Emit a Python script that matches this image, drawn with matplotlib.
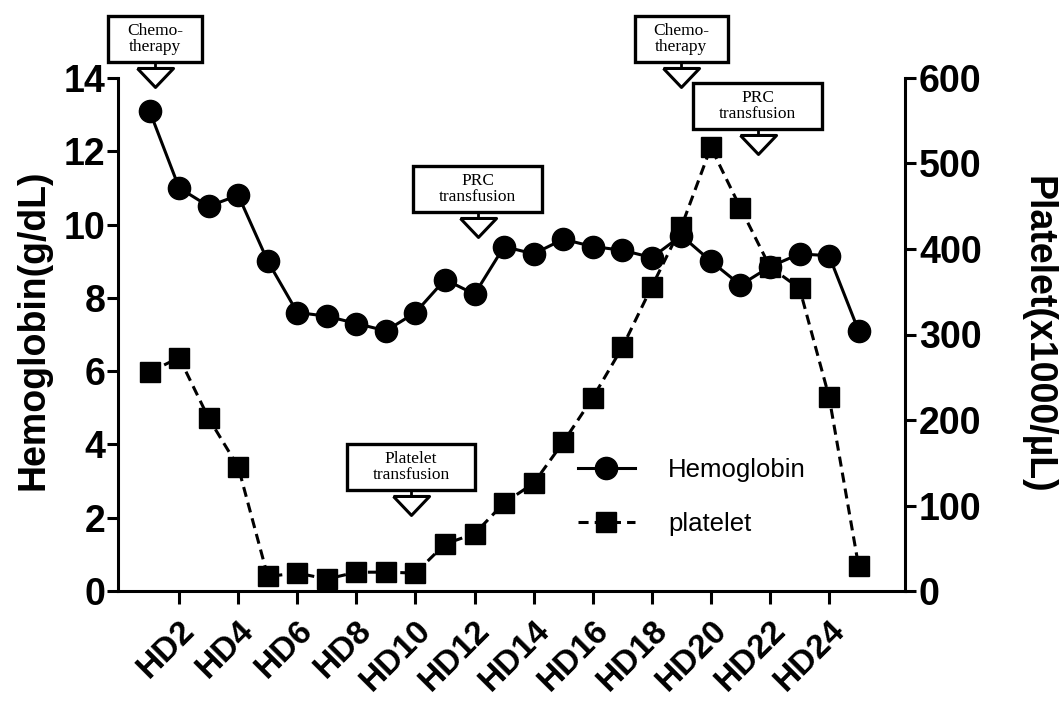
import matplotlib
matplotlib.use("Agg")
import matplotlib.pyplot as plt
from matplotlib.patches import Rectangle
from matplotlib.lines import Line2D
import numpy as np

# ---------------- data ----------------
days = list(range(1, 26))
hemoglobin = [13.1, 11.0, 10.5, 10.8, 9.0, 7.6, 7.5, 7.3, 7.1, 7.6,
              8.5, 8.1, 9.4, 9.2, 9.6, 9.4, 9.3, 9.1, 9.7, 9.0,
              8.35, 8.85, 9.2, 9.15, 7.1]
platelet = [256, 273, 202, 145, 17, 21, 14, 22, 22, 21,
            55, 67, 103, 126, 174, 226, 285, 356, 426, 519,
            448, 379, 354, 227, 29]
xtick_days = list(range(2, 25, 2))
xtick_labels = [f"HD{d}" for d in xtick_days]
hb_ticks = [0, 2, 4, 6, 8, 10, 12, 14]
plt_ticks = [0, 100, 200, 300, 400, 500, 600]

event_labels = ["Chemo-\ntherapy", "PRC\ntransfusion", "Platelet\ntransfusion",
                "Chemo-\ntherapy", "PRC\ntransfusion"]
event_days = [1.19, 12.1, 9.85, 19.0, 21.58]

# ---------------- styling ----------------
W, H = 1061, 713
fig = plt.figure(figsize=(W / 100, H / 100), dpi=100)
ax_l, ax_r, ax_b, ax_t = 118, 905, 591, 78
ax = fig.add_axes([ax_l / W, 1 - ax_b / H, (ax_r - ax_l) / W, (ax_b - ax_t) / H])
ax2 = ax.twinx()

sans = ["Liberation Sans", "DejaVu Sans"]
serif = ["Liberation Serif", "DejaVu Serif"]
lw = 2.2

ax.plot(days, hemoglobin, color="black", lw=lw, marker="o", ms=16,
        clip_on=False, zorder=3, label="Hemoglobin")
ax2.plot(days, platelet, color="black", lw=lw, marker="s", ms=15,
         linestyle=(0, (3.3, 2.0)), clip_on=False, zorder=4, label="platelet")

ax.set_xlim(-0.07, 26.57)
ax.set_ylim(0, 14)
ax2.set_ylim(0, 600)

for a in (ax, ax2):
    a.spines["top"].set_visible(False)
    for s in a.spines.values():
        s.set_linewidth(lw)
ax.spines["right"].set_visible(False)
ax2.spines["left"].set_visible(False)
ax2.spines["bottom"].set_visible(False)

ax.set_xticks(xtick_days)
ax.set_xticklabels(xtick_labels, rotation=45, ha="right", va="top",
                   rotation_mode="anchor", fontsize=24, fontweight="bold",
                   family=sans)
ax.tick_params(axis="x", direction="out", length=9, width=lw, pad=8)
ax.set_yticks(hb_ticks)
ax.set_yticklabels([str(t) for t in hb_ticks], fontsize=27, fontweight="bold",
                   family=sans)
ax.tick_params(axis="y", direction="out", length=8, width=lw, pad=1)
ax2.set_yticks(plt_ticks)
ax2.set_yticklabels([str(t) for t in plt_ticks], fontsize=27, fontweight="bold",
                    family=sans)
ax2.tick_params(axis="y", direction="out", length=8, width=lw, pad=2)

ax.set_ylabel("Hemoglobin(g/dL)", fontsize=27, fontweight="bold", family=sans,
              va="center")
ax.yaxis.set_label_coords(-0.108, 0.51)
ax2.set_ylabel("Platelet(x1000/\u00b5L)", fontsize=27, fontweight="bold",
               family=sans, rotation=270, va="center")
ax2.yaxis.set_label_coords(1.168, 0.50)

# ---------------- event annotations ----------------
px_x = 29.55            # pixels per day
px_y = 36.6             # pixels per Hb unit
box_h_px = 46
box_bottoms_px = [63, 212, 490, 63, 130]
box_widths_px = [94, 129, 128, 93, 129]
for lab, d, bb, bw in zip(event_labels, event_days, box_bottoms_px, box_widths_px):
    x0 = d - (bw / 2) / px_x
    y0 = (ax_b - bb) / px_y
    rect = Rectangle((x0, y0), bw / px_x, box_h_px / px_y, transform=ax.transData,
                     facecolor="white", edgecolor="black", lw=2.4,
                     clip_on=False, zorder=6)
    ax.add_patch(rect)
    ax.text(d, y0 + (box_h_px / 2) / px_y, lab, ha="center", va="center",
            fontsize=12.5, family=serif, linespacing=1.0, zorder=7, clip_on=False,
            transform=ax.transData)
    # stem and open triangle
    ty = (ax_b - (bb + 15)) / px_y
    ax.plot([d, d], [y0, (ax_b - (bb + 6)) / px_y], color="black", lw=2.0,
            clip_on=False, zorder=6)
    tri = [(-1, 0.5), (1, 0.5), (0, -0.55), (-1, 0.5)]
    ax.plot([d], [ty], marker=tri, ms=26, mfc="white", mec="black", mew=2.2,
            linestyle="none", clip_on=False, zorder=6)

# ---------------- legend ----------------
h1 = Line2D([], [], color="black", lw=lw, marker="o", ms=16)
h2 = Line2D([], [], color="black", lw=lw, marker="s", ms=15,
            linestyle=(0, (3.3, 2.0)))
fig.legend([h1, h2], ["Hemoglobin", "platelet"], loc="center left",
           bbox_to_anchor=(578 / W, 1 - 497 / H), frameon=False,
           prop={"family": sans, "size": 18.5}, handlelength=2.2,
           handletextpad=1.3, labelspacing=1.2, borderpad=0, borderaxespad=0)

fig.savefig("out.png", dpi=100)
